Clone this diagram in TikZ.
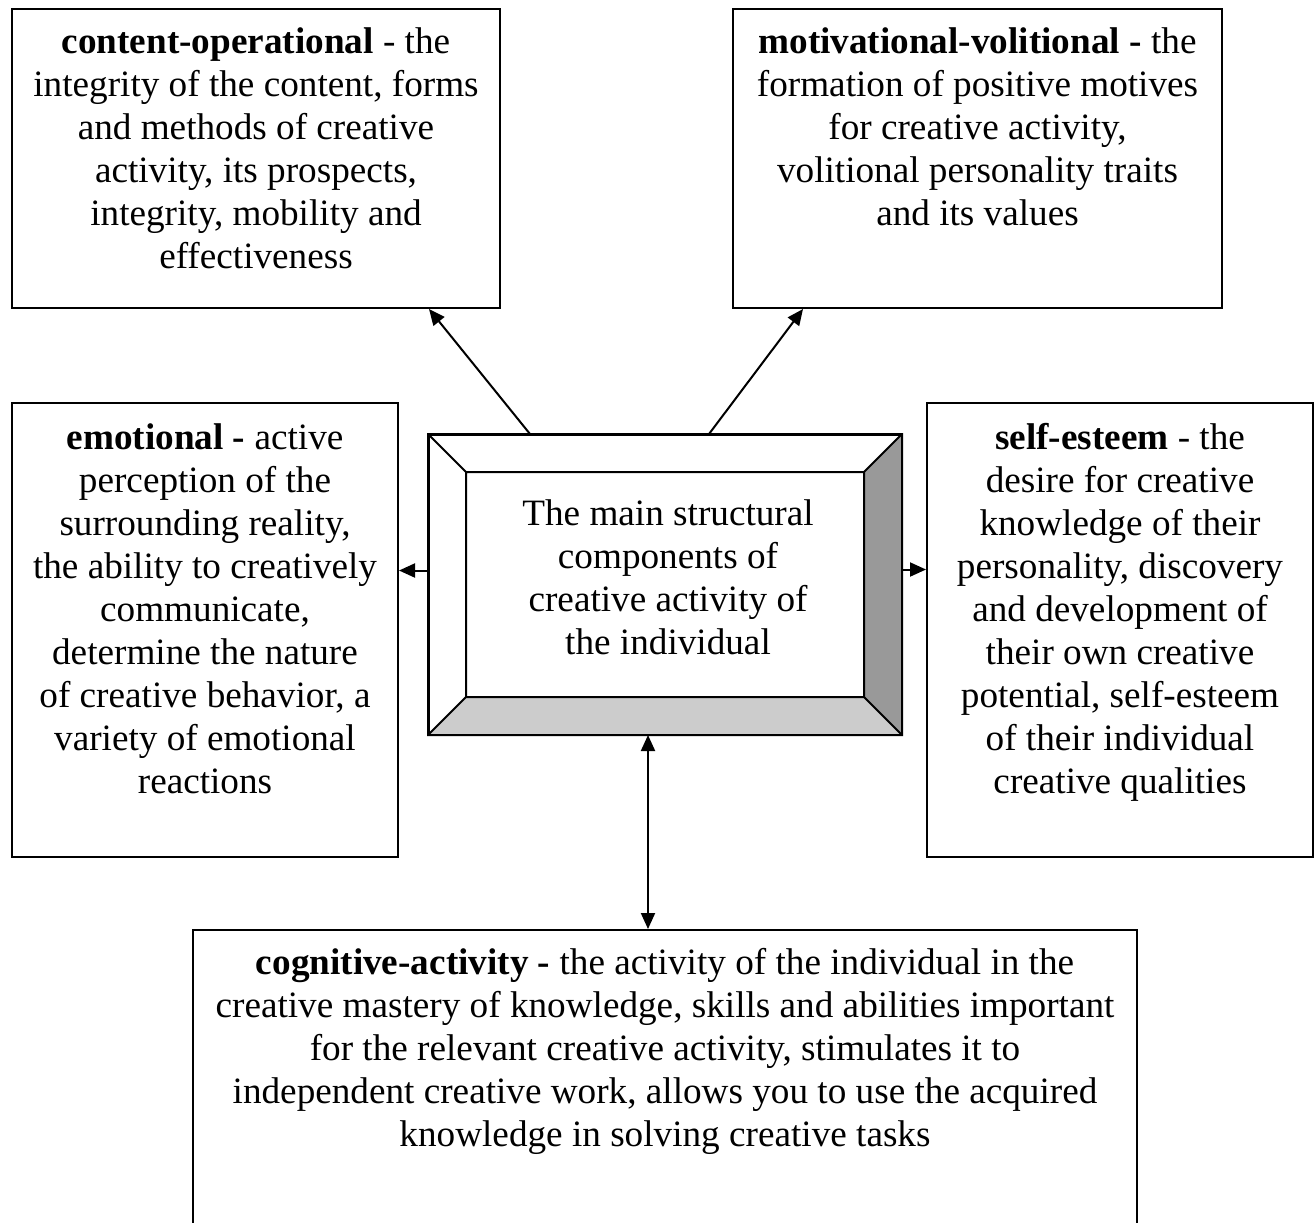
\documentclass[tikz,border=0pt]{standalone}
\usepackage{fontspec}
\setmainfont{Liberation Serif}
\usetikzlibrary{arrows.meta,calc}

\tikzset{
  box/.style={draw,line width=1pt,inner sep=0pt,anchor=north west},
  txt/.style={align=center,inner sep=0pt,anchor=base,font=\fontsize{18.6}{21.5}\selectfont},
  arr/.style={-{Triangle[length=8pt,width=7pt]},line width=1pt},
  arrb/.style={{Triangle[length=8pt,width=7pt]}-{Triangle[length=8pt,width=7pt]},line width=1pt}
}

\begin{document}
\begin{tikzpicture}[x=0.5pt,y=-0.5pt]
	\useasboundingbox (0,0) rectangle (1316,1222);
	% the five component boxes
	\node[box,minimum width=244pt,minimum height=149.5pt] (co) at (11,8) {};
	\node[box,minimum width=244.5pt,minimum height=149.5pt] (mv) at (732,8) {};
	\node[box,minimum width=193pt,minimum height=227pt] (em) at (11,402) {};
	\node[box,minimum width=193pt,minimum height=227pt] (se) at (926,402) {};
	\node[box,minimum width=472pt,minimum height=170pt] (cg) at (192,929) {};
	% centre box with bevel
	\node[box,minimum width=236pt,minimum height=149.5pt] (main) at (428,434) {};
	\coordinate (inw) at ([shift={(19pt,-19pt)}]main.north west);
	\coordinate (ine) at ([shift={(-19pt,-19pt)}]main.north east);
	\coordinate (isw) at ([shift={(19pt,19pt)}]main.south west);
	\coordinate (ise) at ([shift={(-19pt,19pt)}]main.south east);
	\fill[black!40] (main.north east) -- (ine) -- (ise) -- (main.south east) -- cycle;
	\fill[black!20] (main.south west) -- (isw) -- (ise) -- (main.south east) -- cycle;
	\draw[line width=1pt] (inw) rectangle (ise)
		(main.north west) -- (inw) (main.north east) -- (ine)
		(main.south west) -- (isw) (main.south east) -- (ise)
		(main.north west) rectangle (main.south east);
	% texts (base = last line)
	\node[txt] (cotext) at ([yshift=-130pt]co.north) {\textbf{content-operational} - the\\
		integrity of the content, forms\\ and methods of creative\\
		activity, its prospects,\\ integrity, mobility and\\ effectiveness};
	\node[txt] (mvtext) at ([yshift=-108.5pt]mv.north) {\textbf{motivational-volitional -} the\\
		formation of positive motives\\ for creative activity,\\
		volitional personality traits\\ and its values};
	\node[txt] (emtext) at ([yshift=-195.5pt]em.north) {\textbf{emotional -} active\\
		perception of the\\ surrounding reality,\\ the ability to creatively\\
		communicate,\\ determine the nature\\ of creative behavior, a\\
		variety of emotional\\ reactions};
	\node[txt] (setext) at ([yshift=-195.5pt]se.north) {\textbf{self-esteem} - the\\
		desire for creative\\ knowledge of their\\ personality, discovery\\
		and development of\\ their own creative\\ potential, self-esteem\\
		of their individual\\ creative qualities};
	\node[txt] (maintext) at ([shift={(1.5pt,-110pt)}]main.north) {The main structural\\
		components of\\ creative activity of\\ the individual};
	\node[txt] (cgtext) at ([yshift=-108.5pt]cg.north) {\textbf{cognitive-activity -} the activity of the individual in the\\
		creative mastery of knowledge, skills and abilities important\\
		for the relevant creative activity, stimulates it to\\
		independent creative work, allows you to use the acquired\\
		knowledge in solving creative tasks};
	% arrows
	\draw[arr] ([xshift=51pt]main.north west) -- ([xshift=209pt]co.south west);
	\draw[arr] ([xshift=140.5pt]main.north west) -- ([xshift=35.5pt]mv.south west);
	\draw[arr] ([yshift=7pt]main.west) -- ([yshift=7pt]main.west -| em.east);
	\draw[arr] ([yshift=7.5pt]main.east) -- ([yshift=7.5pt]main.east -| se.west);
	\draw[arrb] ([xshift=-8.5pt]main.south) -- ([xshift=-8.5pt]main.south |- cg.north);
\end{tikzpicture}
\end{document}
